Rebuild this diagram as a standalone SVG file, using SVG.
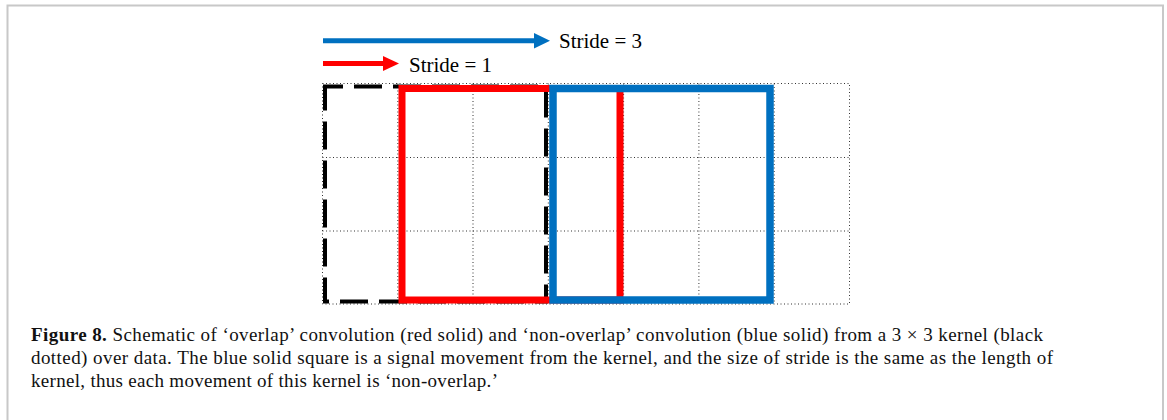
<svg xmlns="http://www.w3.org/2000/svg" width="1167" height="420" viewBox="0 0 1167 420">
<style>
.grid{fill:none;stroke:#333;stroke-width:1;stroke-dasharray:1 2.5}
.lbl{font-family:"Liberation Serif","Times New Roman",serif;font-size:21px;fill:#000}
.cap{font-family:"Liberation Serif","Times New Roman",serif;font-size:19px;fill:#111}
</style>
<rect x="0" y="0" width="1167" height="420" fill="#fff"/>
<path d="M7.5 420 V5.5 H1163 V420" fill="none" stroke="#c8c8c8" stroke-width="2"/>
<g id="grid">
<rect class="grid" x="322.5" y="83.5" width="527" height="220.5"/>
<path class="grid" d="M397.8 83.5V304 M473 83.5V304 M548.3 83.5V304 M623.6 83.5V304 M698.9 83.5V304 M774.2 83.5V304 M322.5 157.5H849.5 M322.5 231H849.5"/>
</g>
<g id="kernel">
<rect x="325" y="86.5" width="221" height="215" fill="none" stroke="#000" stroke-width="4" stroke-dasharray="28 11" stroke-dashoffset="10"/>
</g>
<g id="overlap">
<rect x="402" y="88.5" width="218" height="211.5" fill="none" stroke="#ff0000" stroke-width="7"/>
</g>
<g id="nonoverlap">
<rect x="553" y="88.5" width="217" height="211.5" fill="none" stroke="#0070c0" stroke-width="7.5"/>
</g>
<g id="connectors">
<line x1="323" y1="40.7" x2="535" y2="40.7" stroke="#0070c0" stroke-width="5"/>
<polygon points="534,33 550,40.7 534,48.4" fill="#0070c0"/>
<line x1="323" y1="63.5" x2="384" y2="63.5" stroke="#ff0000" stroke-width="5"/>
<polygon points="383,56 399,63.5 383,71" fill="#ff0000"/>
</g>
<g id="labels">
<text class="lbl" x="559" y="48">Stride = 3</text>
<text class="lbl" x="409" y="72">Stride = 1</text>
</g>
<g id="caption">
<text class="cap" x="31" y="341" textLength="1012" lengthAdjust="spacing"><tspan font-weight="bold">Figure 8.</tspan> Schematic of ‘overlap’ convolution (red solid) and ‘non-overlap’ convolution (blue solid) from a 3 × 3 kernel (black</text>
<text class="cap" x="31" y="364" textLength="1022" lengthAdjust="spacing">dotted) over data. The blue solid square is a signal movement from the kernel, and the size of stride is the same as the length of</text>
<text class="cap" x="31" y="387" textLength="467" lengthAdjust="spacing">kernel, thus each movement of this kernel is ‘non-overlap.’</text>
</g>
</svg>
